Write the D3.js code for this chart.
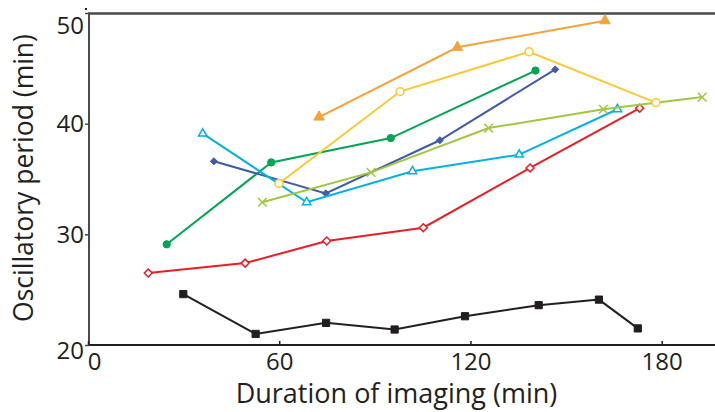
<!DOCTYPE html>
<html>
<head>
<meta charset="utf-8">
<script src="https://cdn.jsdelivr.net/npm/d3@7"></script>
<style>
  body { margin: 0; background: #fff; }
  text { font-family: "Open Sans", sans-serif; fill: #231f20; }
</style>
</head>
<body>
<script>
// values (x = duration of imaging, y = oscillatory period)
let blackX = [29.9, 52.6, 74.7, 96.2, 118.3, 141.4, 160.3, 172.5];
let blackY = [24.6, 21.0, 22.0, 21.4, 22.6, 23.6, 24.1, 21.5];
let redX = [18.9, 49.3, 74.9, 105.2, 138.7, 173.1];
let redY = [26.5, 27.4, 29.4, 30.6, 36.0, 41.4];
let greenX = [24.7, 57.5, 95.0, 140.4];
let greenY = [29.1, 36.5, 38.7, 44.8];
let blueX = [39.5, 74.6, 110.4, 146.6];
let blueY = [36.6, 33.7, 38.5, 44.9];
let cyanX = [36.0, 68.6, 101.8, 135.3, 166.1];
let cyanY = [39.1, 32.9, 35.7, 37.2, 41.3];
let limeX = [54.7, 88.8, 125.7, 161.7, 192.7];
let limeY = [32.9, 35.6, 39.6, 41.3, 42.4];
let yellowX = [59.9, 97.9, 138.4, 178.2];
let yellowY = [34.6, 42.9, 46.5, 41.9];
let orangeX = [72.5, 115.9, 162.2];
let orangeY = [40.6, 46.9, 49.3];

let xTicks = [0, 60, 120, 180];
let yTicks = [20, 30, 40, 50];

let width = 715, height = 412;

let series = [
    { xs: blackX, ys: blackY, color: "#231f20", symbol: d3.symbolSquare, size: 52, open: false },
    { xs: redX, ys: redY, color: "#ed1c24", symbol: d3.symbolDiamond2, size: 40, open: true },
    { xs: greenX, ys: greenY, color: "#00a651", symbol: d3.symbolCircle, size: 42, open: false },
    { xs: blueX, ys: blueY, color: "#3f5ba9", symbol: d3.symbolDiamond2, size: 32, open: false },
    { xs: cyanX, ys: cyanY, color: "#00b2e3", symbol: d3.symbolTriangle2, size: 50, open: true },
    { xs: limeX, ys: limeY, color: "#a2c63e", symbol: d3.symbolX, size: 50, open: true },
    { xs: yellowX, ys: yellowY, color: "#fdc82f", symbol: d3.symbolCircle, size: 48, open: true },
    { xs: orangeX, ys: orangeY, color: "#f5a23a", symbol: d3.symbolTriangle, size: 48, open: false }
];

let svg = d3.select("body").append("svg")
    .attr("width", width).attr("height", height);

let x = d3.scaleLinear().domain([0, 180]).range([88, 661.7]);
let y = d3.scaleLinear().domain([20, 50]).range([345, 13]);

// frame: left, top and bottom lines
let axisColor = "#4a4a4a";
svg.append("line").attr("x1", 89).attr("x2", 89).attr("y1", 13.5).attr("y2", 345.5)
    .attr("stroke", axisColor).attr("stroke-width", 2);
svg.append("line").attr("x1", 88).attr("x2", width).attr("y1", 13.5).attr("y2", 13.5)
    .attr("stroke", axisColor).attr("stroke-width", 2.5);
svg.append("line").attr("x1", 88).attr("x2", width).attr("y1", 345).attr("y2", 345)
    .attr("stroke", "#231f20").attr("stroke-width", 2);
svg.append("rect").attr("x", 85).attr("y", 8).attr("width", 2).attr("height", 2).attr("fill", "#231f20");

// x axis
let xAxis = svg.append("g").attr("transform", "translate(0,345)")
    .call(d3.axisBottom(x).tickValues(xTicks).tickSizeInner(-4).tickSizeOuter(0).tickPadding(8));
xAxis.select(".domain").remove();
xAxis.selectAll(".tick line").attr("stroke", "#231f20").attr("stroke-width", 1.5);
xAxis.selectAll(".tick text")
    .style("font-family", "'Open Sans', sans-serif").style("font-size", "24px")
    .attr("fill", "#231f20")
    .attr("dx", d => d === 0 ? 6 : 0);

// y axis (small ticks pointing outward)
let yAxis = svg.append("g").attr("transform", "translate(89,0)")
    .call(d3.axisLeft(y).tickValues(yTicks).tickSizeInner(4).tickSizeOuter(0).tickPadding(1));
yAxis.select(".domain").remove();
yAxis.selectAll(".tick line").attr("stroke", "#4a4a4a").attr("stroke-width", 1.5);
yAxis.selectAll(".tick text")
    .style("font-family", "'Open Sans', sans-serif").style("font-size", "24px")
    .attr("fill", "#231f20")
    .attr("dy", d => d === 50 ? "0.85em" : d === 20 ? "0.55em" : "0.32em");

// titles
svg.append("text").attr("x", 396.5).attr("y", 403).attr("text-anchor", "middle")
    .style("font-size", "27px").text("Duration of imaging (min)");
svg.append("text").attr("transform", "translate(33,178) rotate(-90)").attr("text-anchor", "middle")
    .style("font-size", "26.5px").text("Oscillatory period (min)");

// lines + markers
let line = d3.line().x(d => x(d[0])).y(d => y(d[1]));

series.forEach(s => {
    let pts = s.xs.map((v, i) => [v, s.ys[i]]);
    svg.append("path").attr("d", line(pts))
        .attr("fill", "none").attr("stroke", s.color).attr("stroke-width", 2);
    svg.selectAll(null).data(pts).enter().append("path")
        .attr("transform", d => `translate(${x(d[0])},${y(d[1])})`)
        .attr("d", d3.symbol().type(s.symbol).size(s.size))
        .attr("fill", s.open ? "#fff" : s.color)
        .attr("stroke", s.color).attr("stroke-width", s.open ? 1.5 : 1);
});
</script>
</body>
</html>
